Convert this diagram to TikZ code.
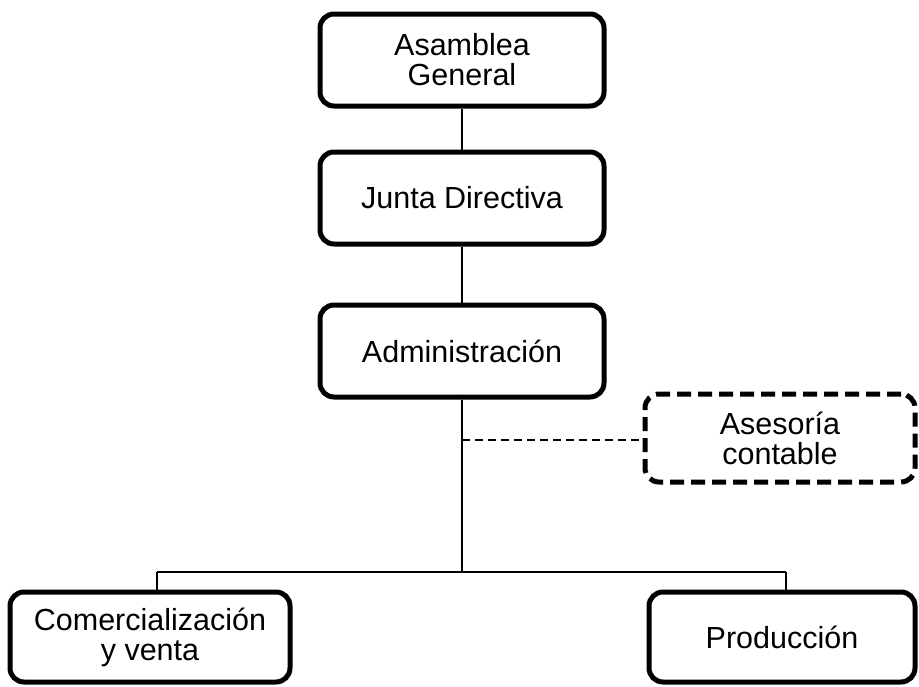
\documentclass[tikz,border=0pt]{standalone}
\usepackage{fontspec}
\setmainfont{Liberation Sans}
\begin{document}
\begin{tikzpicture}[x=1pt,y=-1pt,
  box/.style={draw, line width=5pt, rounded corners=14pt, align=center,
    font=\fontsize{30.5}{30}\selectfont, inner sep=0pt},
  dbox/.style={box, dash pattern=on 14pt off 7pt},
  conn/.style={line width=2.2pt},
  dconn/.style={line width=2.2pt, dash pattern=on 8pt off 5pt}]
\useasboundingbox (0,0) rectangle (919,686);
\node[box, minimum width=284pt, minimum height=92pt] (ag) at (462,60) {Asamblea\\General};
\node[box, minimum width=284pt, minimum height=92pt] (jd) at (462,198) {Junta Directiva};
\node[box, minimum width=284pt, minimum height=92pt] (ad) at (462,351) {Administración};
\node[dbox, minimum width=270pt, minimum height=88pt] (as) at (780,438) {Asesoría\\contable};
\node[box, minimum width=280pt, minimum height=90pt] (cv) at (150,637) {Comercialización\\y venta};
\node[box, minimum width=266pt, minimum height=90pt] (pr) at (782,637) {Producción};
\coordinate (j) at (462,572);
\coordinate (d) at (462,440);
\coordinate (l) at (157,572);
\coordinate (r) at (786,572);
\draw[conn] (ag.south) -- (jd.north);
\draw[conn] (jd.south) -- (ad.north);
\draw[conn] (ad.south) -- (j);
\draw[dconn] (d) -- (d -| as.west);
\draw[conn] (l) -- (r);
\draw[conn] (l) -- (l |- cv.north);
\draw[conn] (r) -- (r |- pr.north);
\end{tikzpicture}
\end{document}
